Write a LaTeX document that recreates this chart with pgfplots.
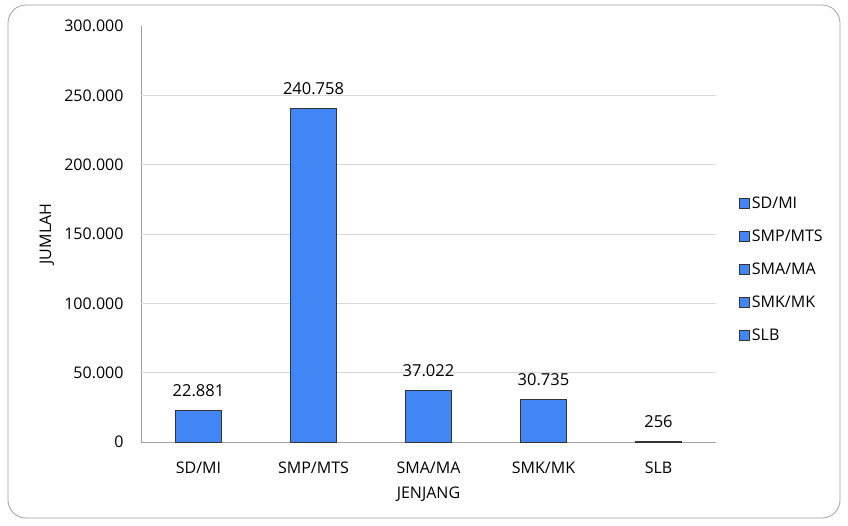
\documentclass[border=0pt]{standalone}
\usepackage{pgfplots}
\pgfplotsset{compat=1.18}
\usepackage{fontspec}
\setmainfont{Open Sans}
\definecolor{barblue}{RGB}{66,133,244}
\definecolor{gridgray}{RGB}{217,217,217}
\definecolor{axgray}{RGB}{160,160,160}
\begin{document}
\begin{tikzpicture}[x=1pt,y=1pt]
\useasboundingbox (0,0) rectangle (848,525);
\fill[white] (0,0) rectangle (848,525);
\draw[axgray, line width=0.8pt, rounded corners=18pt] (8,7) rectangle (840,520);
\begin{axis}[
  at={(141pt,83pt)}, anchor=south west,
  scale only axis, width=575pt, height=416pt,
  xmin=-0.5, xmax=4.5, ymin=0, ymax=300000,
  axis lines*=left,
  axis line style={axgray, line width=0.8pt},
  xtick={0,1,2,3,4},
  xticklabels={SD/MI,SMP/MTS,SMA/MA,SMK/MK,SLB},
  ytick={0,50000,100000,150000,200000,250000,300000},
  extra y ticks={50000,100000,150000,200000,250000},
  extra y tick labels={},
  extra y tick style={grid=major, major grid style={gridgray, line width=0.8pt}},
  major tick length=0pt,
  scaled y ticks=false,
  /pgf/number format/.cd, fixed, 1000 sep={.}, assume math mode=true,
  /pgfplots/.cd,
  yticklabel style={font=\fontsize{16}{18}\selectfont, xshift=-14pt},
  xticklabel style={font=\fontsize{16}{18}\selectfont, anchor=center, yshift=-26pt},
  ylabel={JUMLAH}, ylabel style={font=\fontsize{16}{18}\selectfont, at={(axis description cs:0,0.5)}, anchor=center, yshift=94pt},
  xlabel={JENJANG}, xlabel style={font=\fontsize{16}{18}\selectfont, at={(axis description cs:0.5,0)}, anchor=center, yshift=-52pt},
  nodes near coords,
  nodes near coords style={font=\fontsize{16.5}{18}\selectfont, anchor=center, yshift=20pt,
     /pgf/number format/.cd, fixed, 1000 sep={.}, assume math mode=true},
  legend style={at={(1.035,0.415)}, anchor=west, draw=none, fill=none,
     font=\fontsize{16}{18}\selectfont, row sep=16pt,
     legend cell align=left},
  legend image code/.code={\draw[#1, draw=black!80, line width=0.6pt, fill=barblue] (0pt,-5pt) rectangle (10pt,5pt);},
]
\addplot[ybar, bar width=46pt, fill=barblue, draw=black!80, line width=0.8pt, forget plot]
  coordinates {(0,22881) (1,240758) (2,37022) (3,30735) (4,256)};
\addlegendimage{fill=barblue}\addlegendentry{SD/MI}
\addlegendimage{fill=barblue}\addlegendentry{SMP/MTS}
\addlegendimage{fill=barblue}\addlegendentry{SMA/MA}
\addlegendimage{fill=barblue}\addlegendentry{SMK/MK}
\addlegendimage{fill=barblue}\addlegendentry{SLB}
\end{axis}
\end{tikzpicture}
\end{document}
